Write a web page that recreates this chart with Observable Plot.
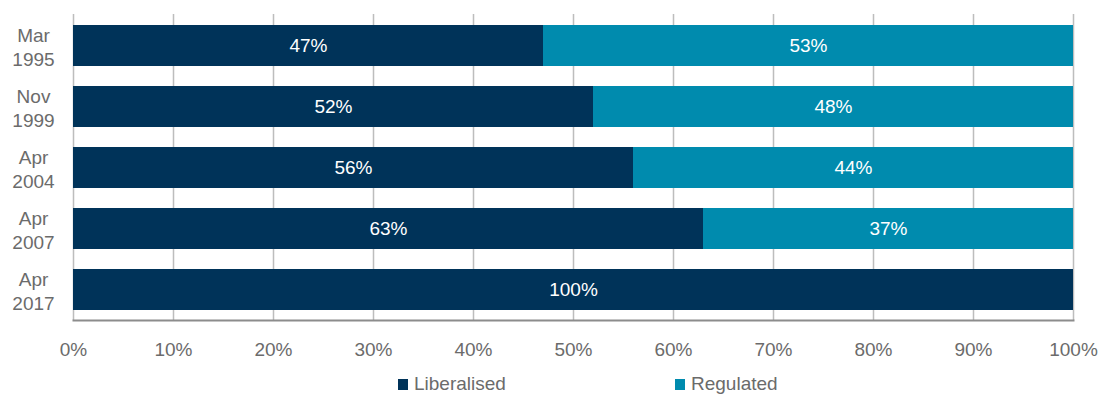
<!DOCTYPE html>
<html>
<head>
<meta charset="utf-8">
<script src="https://cdn.jsdelivr.net/npm/d3@7"></script>
<script src="https://cdn.jsdelivr.net/npm/@observablehq/plot@0.6"></script>
<style>
  html, body { margin: 0; padding: 0; background: #fff; overflow: hidden; }
  body { width: 1098px; height: 394px; font-family: "Liberation Sans", Arial, sans-serif; }
  #legend { position: relative; height: 24px; font-size: 19px; color: #6b6b6b; }
  .item { position: absolute; top: 0; display: flex; align-items: center; height: 24px; line-height: 24px; }
  .sw { width: 10px; height: 11px; margin-right: 6px; }
</style>
</head>
<body>
<div id="chart"></div>
<div id="legend"></div>
<script>
const categories = ["Mar 1995", "Nov 1999", "Apr 2004", "Apr 2007", "Apr 2017"];
const seriesNames = ["Liberalised", "Regulated"];
const liberalised = [47, 52, 56, 63, 100];
const regulated = [53, 48, 44, 37, 0];
const xTicks = [0, 10, 20, 30, 40, 50, 60, 70, 80, 90, 100];
const colors = ["#003359", "#008BAE"];

const data = [];
categories.forEach((c, i) => {
  data.push({period: c, series: seriesNames[0], value: liberalised[i]});
  data.push({period: c, series: seriesNames[1], value: regulated[i]});
});
const shown = data.filter(d => d.value > 0);

const font = "'Liberation Sans', Arial, sans-serif";
const chart = Plot.plot({
  width: 1098,
  height: 372,
  marginLeft: 73,
  marginRight: 25,
  marginTop: 14,
  marginBottom: 52,
  style: {fontFamily: font, fontSize: "19px", color: "#6b6b6b", background: "#fff"},
  x: {domain: [0, 100], ticks: xTicks, tickFormat: d => d + "%"},
  y: {domain: categories, paddingInner: 0.33, paddingOuter: 0.165},
  color: {domain: seriesNames, range: colors},
  marks: [
    Plot.gridX(xTicks, {stroke: "#bdbdbd", strokeOpacity: 1, strokeWidth: 1.5}),
    Plot.barX(shown, Plot.stackX({x: "value", y: "period", fill: "series", order: seriesNames})),
    Plot.text(shown, Plot.stackX({x: "value", y: "period", z: "series", order: seriesNames, text: d => d.value + "%", fill: "white", fontSize: 19})),
    Plot.frame({anchor: "bottom", stroke: "#8c8c8c", strokeWidth: 2}),
    Plot.axisX({ticks: xTicks, tickFormat: d => d + "%", tickSize: 0, tickPadding: 22, label: null, fill: "#6b6b6b", fontSize: 19}),
    Plot.axisY({tickSize: 0, tickPadding: 40, textAnchor: "middle", tickFormat: d => d.replace(" ", "\n"), label: null, fill: "#6b6b6b", fontSize: 19, lineHeight: 1.3})
  ]
});
document.getElementById("chart").appendChild(chart);

const legend = document.getElementById("legend");
const positions = [398, 675];
seriesNames.forEach((s, i) => {
  const it = document.createElement("div");
  it.className = "item";
  it.style.left = positions[i] + "px";
  const sw = document.createElement("span");
  sw.className = "sw";
  sw.style.background = colors[i];
  const t = document.createElement("span");
  t.textContent = s;
  it.appendChild(sw);
  it.appendChild(t);
  legend.appendChild(it);
});
</script>
</body>
</html>
